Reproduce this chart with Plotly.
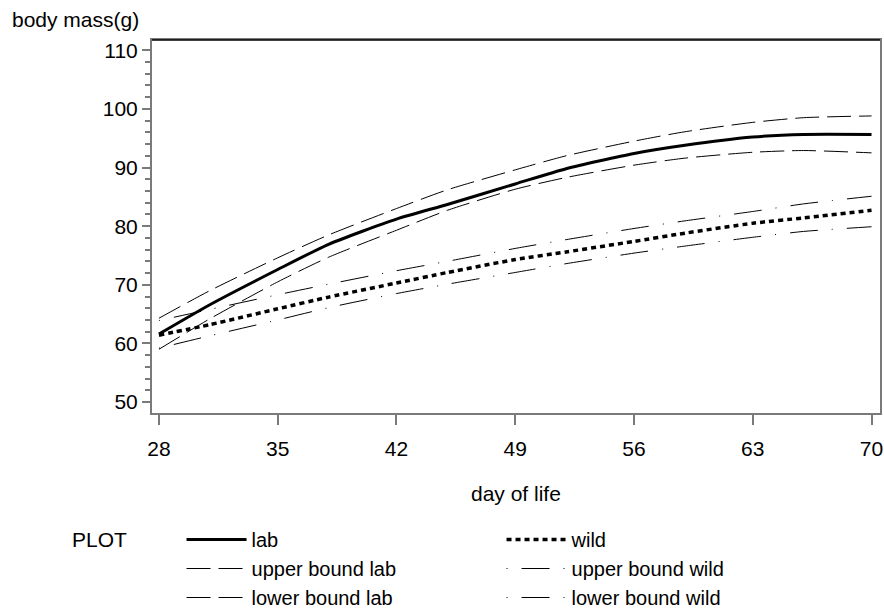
import plotly.graph_objects as go

days = [28, 31, 35, 38, 42, 45, 49, 52, 56, 59, 63, 66, 70]
lab = [61.6, 66.6, 72.6, 76.9, 81.2, 83.7, 87.2, 89.8, 92.4, 93.8, 95.2, 95.65, 95.65]
upper_lab = [64.3, 69.0, 74.6, 78.5, 83.0, 86.2, 89.6, 92.0, 94.5, 96.1, 97.7, 98.5, 98.8]
lower_lab = [59.0, 64.2, 70.5, 74.7, 79.3, 82.7, 86.3, 88.3, 90.4, 91.6, 92.6, 92.9, 92.5]
wild = [61.4, 63.2, 65.9, 67.9, 70.3, 72.1, 74.3, 75.6, 77.4, 78.8, 80.5, 81.4, 82.7]
upper_wild = [63.9, 65.8, 68.3, 70.1, 72.4, 74.0, 76.2, 77.7, 79.6, 80.9, 82.5, 83.8, 85.1]
lower_wild = [59.2, 61.3, 64.0, 66.1, 68.5, 70.1, 72.1, 73.6, 75.4, 76.6, 78.1, 79.1, 79.9]

x_ticks = [28, 35, 42, 49, 56, 63, 70]
y_ticks = [50, 60, 70, 80, 90, 100, 110]

FONT = "Liberation Sans, Arial, sans-serif"
GRAY = "#7a7a7a"

W, H = 884, 612
L, T, R, B = 152, 40, 4, 199
PW, PH = W - L - R, H - T - B

series = [
    ("lab", lab, dict(color="black", width=3, dash="solid")),
    ("wild", wild, dict(color="black", width=3.5, dash="5px,4px")),
    ("upper bound lab", upper_lab, dict(color="black", width=1, dash="24px,8px")),
    ("upper bound wild", upper_wild, dict(color="black", width=1, dash="1px,14px,28px,14px")),
    ("lower bound lab", lower_lab, dict(color="black", width=1, dash="24px,8px")),
    ("lower bound wild", lower_wild, dict(color="black", width=1, dash="1px,14px,28px,14px")),
]

fig = go.Figure()
for name, vals, line in series:
    fig.add_trace(go.Scatter(x=days, y=vals, mode="lines", name=name,
                             line=dict(shape="spline", smoothing=0.6, **line)))

fig.update_layout(
    width=W, height=H,
    margin=dict(l=L, r=R, t=T, b=B, autoexpand=False),
    paper_bgcolor="white", plot_bgcolor="white",
    font=dict(family=FONT, size=21, color="black"),
    showlegend=True,
    legend=dict(
        orientation="h",
        xref="container", yref="container",
        x=70 / W, y=1 - 520 / H, xanchor="left", yanchor="top",
        itemwidth=60,
        entrywidth=245,
        title=dict(text="PLOT" + "\u00a0" * 8, side="left", font=dict(size=21)),
        font=dict(size=20),
        bgcolor="rgba(0,0,0,0)",
        tracegroupgap=0,
    ),
    shapes=[dict(type="line", xref="paper", yref="paper", x0=0, x1=1, y0=1, y1=1,
                 line=dict(color="black", width=1.5))],
)

fig.update_xaxes(
    range=[27.59, 70.5], tickvals=x_ticks, ticktext=[str(t) for t in x_ticks],
    showline=True, linecolor=GRAY, linewidth=2, mirror=True,
    ticks="outside", ticklen=10, tickcolor=GRAY, tickwidth=1.5,
    ticklabelstandoff=6, automargin=False,
    showgrid=False, zeroline=False,
    tickfont=dict(size=21, color="black"),
)
fig.update_yaxes(
    range=[48.13, 111.75], tickvals=y_ticks, ticktext=[str(t) for t in y_ticks],
    showline=True, linecolor=GRAY, linewidth=2, mirror=True,
    ticks="outside", ticklen=8, tickcolor=GRAY, tickwidth=1.5,
    minor=dict(dtick=2, ticks="outside", ticklen=5, tickcolor=GRAY, tickwidth=1.5, showgrid=False),
    automargin=False,
    showgrid=False, zeroline=False,
    tickfont=dict(size=21, color="black"),
)

fig.add_annotation(text="body mass(g)", xref="paper", yref="paper",
                   x=-(152 - 10) / PW, y=1 + 20 / PH, xanchor="left", yanchor="middle",
                   showarrow=False, font=dict(size=21, color="black"))
fig.add_annotation(text="day of life", xref="paper", yref="paper",
                   x=0.5, y=-(494 - 413) / PH, xanchor="center", yanchor="middle",
                   showarrow=False, font=dict(size=21, color="black"))

fig.write_html(
    "out.html",
    config={"displayModeBar": False},
    post_script="document.documentElement.style.margin='0';document.body.style.margin='0';document.body.style.overflow='hidden';",
)
